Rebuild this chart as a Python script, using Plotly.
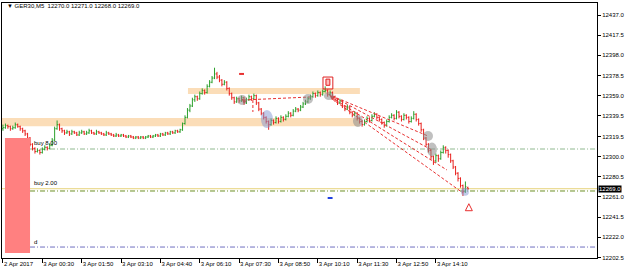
import plotly.graph_objects as go

# ---------------- data ----------------
opens = [12327,12328,12330,12329,12327,12328,12331,12329,12327,12325,12322,12318,12312,12308,12305,12306,12304,12307,12309,12308,
         12311,12316,12327,12331,12327,12325,12323,12324,12322,12324,12323,12321,12323,12324,12322,12323,12325,12323,12322,12324,
         12323,12322,12321,12323,12322,12321,12320,12321,12320,12321,12320,12319,12320,12319,12318,12319,12318,12319,12318,12319,
         12320,12319,12320,12321,12320,12322,12321,12323,12322,12324,12323,12325,12324,12326,12332,12338,12345,12349,12355,12358,
         12356,12361,12364,12362,12368,12372,12376,12380,12377,12374,12370,12372,12366,12361,12357,12353,12356,12354,12357,12352,
         12355,12358,12356,12359,12352,12346,12342,12338,12334,12331,12335,12333,12337,12334,12338,12336,12339,12342,12340,12344,
         12346,12345,12348,12351,12353,12356,12358,12361,12359,12362,12360,12363,12364,12360,12362,12358,12355,12352,12354,12349,
         12346,12348,12343,12340,12342,12337,12334,12331,12334,12337,12335,12339,12341,12338,12336,12333,12330,12334,12338,12340,
         12337,12343,12339,12336,12340,12338,12334,12337,12341,12336,12332,12326,12318,12312,12306,12300,12296,12301,12298,12304,
         12309,12306,12302,12296,12290,12284,12279,12272,12266,12270]
highs = [12331,12332,12331,12330,12330,12333,12332,12330,12328,12326,12323,12319,12313,12309,12308,12307,12309,12311,12310,12313,
         12318,12329,12335,12332,12328,12326,12326,12325,12326,12325,12324,12325,12326,12325,12325,12327,12326,12324,12326,12325,
         12324,12323,12325,12324,12323,12322,12323,12322,12322,12322,12321,12321,12321,12320,12320,12320,12320,12320,12320,12321,
         12321,12321,12322,12322,12323,12323,12324,12324,12325,12325,12326,12326,12327,12333,12340,12347,12351,12357,12360,12359,
         12363,12366,12365,12370,12374,12378,12386,12382,12379,12375,12374,12373,12367,12362,12358,12358,12357,12359,12358,12357,
         12360,12359,12361,12360,12353,12347,12343,12339,12335,12337,12336,12339,12338,12340,12339,12341,12344,12343,12346,12348,
         12347,12350,12353,12355,12358,12360,12363,12362,12364,12363,12365,12368,12365,12364,12363,12359,12356,12356,12355,12350,
         12350,12349,12344,12344,12343,12338,12335,12336,12339,12338,12341,12343,12342,12339,12337,12334,12336,12340,12342,12341,
         12345,12344,12340,12342,12341,12339,12339,12344,12342,12337,12333,12327,12319,12313,12307,12301,12303,12302,12306,12311,
         12310,12307,12303,12297,12291,12285,12280,12273,12276,12271]
lows = [12325,12327,12327,12325,12326,12327,12328,12325,12323,12320,12316,12310,12306,12303,12304,12302,12303,12306,12306,12307,
        12310,12315,12326,12325,12323,12321,12322,12320,12321,12322,12320,12320,12322,12321,12321,12322,12322,12321,12321,12322,
        12321,12320,12320,12321,12320,12319,12319,12319,12319,12319,12318,12318,12318,12317,12317,12317,12317,12317,12317,12318,
        12318,12318,12319,12319,12319,12320,12320,12321,12321,12322,12322,12323,12323,12325,12331,12337,12343,12348,12353,12354,
        12355,12360,12360,12361,12367,12371,12375,12375,12372,12368,12369,12364,12359,12355,12351,12352,12352,12353,12350,12351,
        12354,12354,12355,12350,12344,12340,12336,12332,12326,12330,12331,12332,12332,12333,12334,12335,12338,12338,12339,12343,
        12343,12344,12347,12350,12352,12355,12357,12357,12358,12358,12359,12362,12358,12359,12356,12353,12350,12351,12347,12344,
        12345,12341,12338,12339,12335,12332,12329,12330,12333,12333,12334,12338,12336,12334,12331,12328,12329,12333,12337,12335,
        12336,12337,12334,12335,12336,12332,12333,12336,12334,12330,12324,12316,12310,12304,12297,12292,12294,12295,12297,12303,
        12303,12299,12294,12288,12282,12276,12270,12262,12265,12268]
closes = [12328,12330,12329,12327,12328,12331,12329,12327,12325,12322,12318,12312,12308,12305,12306,12304,12307,12309,12308,12311,
          12316,12327,12331,12327,12325,12323,12324,12322,12324,12323,12321,12323,12324,12322,12323,12325,12323,12322,12324,12323,
          12322,12321,12323,12322,12321,12320,12321,12320,12321,12320,12319,12320,12319,12318,12319,12318,12319,12318,12319,12320,
          12319,12320,12321,12320,12322,12321,12323,12322,12324,12323,12325,12324,12326,12332,12338,12345,12349,12355,12358,12356,
          12361,12364,12362,12368,12372,12376,12380,12377,12374,12370,12372,12366,12361,12357,12353,12356,12354,12357,12352,12355,
          12358,12356,12359,12352,12346,12342,12338,12334,12331,12335,12333,12337,12334,12338,12336,12339,12342,12340,12344,12346,
          12345,12348,12351,12353,12356,12358,12361,12359,12362,12360,12363,12364,12360,12362,12358,12355,12352,12354,12349,12346,
          12348,12343,12340,12342,12337,12334,12331,12334,12337,12335,12339,12341,12338,12336,12333,12330,12334,12338,12340,12337,
          12343,12339,12336,12340,12338,12334,12337,12341,12336,12332,12326,12318,12312,12306,12300,12296,12301,12298,12304,12309,
          12306,12302,12296,12290,12284,12279,12272,12266,12271,12269]
bar_index = list(range(len(closes)))

time_ticks = [0, 16, 32, 48, 64, 80, 96, 112, 128, 144, 160, 176]
time_labels = ["2 Apr 2017", "3 Apr 00:30", "3 Apr 01:50", "3 Apr 03:10", "3 Apr 04:40", "3 Apr 06:10",
               "3 Apr 07:30", "3 Apr 08:50", "3 Apr 10:10", "3 Apr 11:30", "3 Apr 12:50", "3 Apr 14:10"]
price_ticks = [12437.0, 12417.5, 12398.0, 12378.5, 12359.0, 12339.5, 12319.5, 12300.0,
               12280.5, 12261.0, 12241.5, 12222.0, 12202.5]
price_labels = ["%.1f" % v for v in price_ticks]

upper_zone = (12360.5, 12366.3)
lower_zone = (12329.5, 12337.3)
tp_level = 12307.4
entry_level = 12266.8
bid_level = 12269.0
sl_level = 12212.6
header = "\u25BC GER30,M5  12270.0 12271.0 12268.0 12269.0"

FONT = "Liberation Sans"

fig = go.Figure()
fig.add_trace(go.Ohlc(
    x=bar_index, open=opens, high=highs, low=lows, close=closes,
    increasing=dict(line=dict(color="#2ca02c", width=1)),
    decreasing=dict(line=dict(color="#e8211e", width=1)),
    tickwidth=0.4, hoverinfo="skip", showlegend=False))

shapes = []
# zones
shapes.append(dict(type="rect", xref="x", yref="y", x0=75.2, x1=145.1, y0=upper_zone[0], y1=upper_zone[1],
                   fillcolor="#fbddb8", line=dict(width=0), layer="below"))
shapes.append(dict(type="rect", xref="x", yref="y", x0=-0.4, x1=145.1, y0=lower_zone[0], y1=lower_zone[1],
                   fillcolor="#fbddb8", line=dict(width=0), layer="below"))
# horizontal level lines
dd = "5px,2px,1px,2px"
shapes.append(dict(type="line", xref="x", yref="y", x0=-0.4, x1=241.5, y0=bid_level, y1=bid_level,
                   line=dict(color="#e6d27a", width=1), layer="below"))
shapes.append(dict(type="line", xref="x", yref="y", x0=11, x1=241.5, y0=tp_level, y1=tp_level,
                   line=dict(color="#8fb88f", width=1, dash=dd), layer="below"))
shapes.append(dict(type="line", xref="x", yref="y", x0=11, x1=241.5, y0=entry_level, y1=entry_level,
                   line=dict(color="#6b8e23", width=1, dash=dd), layer="below"))
shapes.append(dict(type="line", xref="x", yref="y", x0=11, x1=241.5, y0=sl_level, y1=sl_level,
                   line=dict(color="#6f6fc0", width=1, dash=dd), layer="below"))
# red dashed trend lines
rd = dict(color="#e83030", width=1, dash="3px,2px")
for (xa, ya, xb, yb) in [(97.6, 12354.8, 124.8, 12357.7),
                         (101.6, 12354.8, 101.6, 12343.2),
                         (133.7, 12358.7, 172.8, 12320.0),
                         (133.7, 12358.7, 174.4, 12306.4),
                         (133.7, 12357.0, 180.5, 12287.1),
                         (133.7, 12356.0, 187.0, 12264.9)]:
    shapes.append(dict(type="line", xref="x", yref="y", x0=xa, x1=xb, y0=ya, y1=yb, line=rd, layer="above"))
# red block
shapes.append(dict(type="rect", xref="x", yref="y", x0=0.8, x1=11.0, y0=12206.8, y1=12318.0,
                   fillcolor="#ff8080", line=dict(width=0), layer="above"))
# translucent circles
for (cx, cy, rx, ry, col) in [(97.2, 12354.8, 5, 5, "rgba(140,140,140,0.55)"),
                              (107.3, 12336.4, 6, 9, "rgba(130,150,210,0.5)"),
                              (124.0, 12355.8, 5, 5, "rgba(140,140,140,0.55)"),
                              (132.5, 12358.7, 5, 4, "rgba(140,140,140,0.55)"),
                              (144.3, 12334.4, 5, 6, "rgba(140,140,140,0.55)"),
                              (172.8, 12320.0, 5, 5, "rgba(140,140,140,0.55)"),
                              (174.4, 12307.0, 5, 7, "rgba(140,140,140,0.55)"),
                              (187.8, 12266.0, 4, 4, "rgba(130,150,210,0.5)")]:
    shapes.append(dict(type="circle", xref="x", yref="y", xsizemode="pixel", ysizemode="pixel",
                       xanchor=cx, yanchor=cy, x0=-rx, x1=rx, y0=-ry, y1=ry,
                       fillcolor=col, line=dict(width=0), layer="above"))
# small icons
shapes.append(dict(type="line", xref="x", yref="y", x0=96.0, x1=98.0, y0=12380.0, y1=12380.0,
                   line=dict(color="#e83030", width=2)))
shapes.append(dict(type="line", xref="x", yref="y", x0=132.0, x1=134.0, y0=12260.0, y1=12260.0,
                   line=dict(color="#2040e0", width=2)))
shapes.append(dict(type="rect", xref="x", yref="y", x0=130.1, x1=134.1, y0=12365.4, y1=12377.0,
                   fillcolor="rgba(255,255,255,0)", line=dict(color="#e02020", width=1)))
shapes.append(dict(type="rect", xref="x", yref="y", x0=131.3, x1=132.9, y0=12369.0, y1=12375.0,
                   fillcolor="rgba(255,140,140,0.6)", line=dict(color="#e02020", width=1)))

fig.add_trace(go.Scatter(x=[189.4], y=[12254.5], mode="markers", hoverinfo="skip", showlegend=False,
                         marker=dict(symbol="arrow-up-open", size=7, color="#e83030", line=dict(width=1, color="#e83030"))))
fig.add_trace(go.Scatter(x=[96.8, 132.6], y=[12356.5, 12360.0], mode="markers", hoverinfo="skip", showlegend=False,
                         marker=dict(symbol="arrow", angle=-45, size=6, color="#e02020")))

annotations = [
    dict(xref="paper", yref="paper", x=0, y=0.988, xanchor="left", yanchor="middle", xshift=3,
         text=header, showarrow=False, font=dict(family=FONT, size=6, color="#000000")),
    dict(xref="x", yref="y", x=11.6, y=tp_level, xanchor="left", yanchor="bottom", yshift=1,
         text="buy 8.00", showarrow=False, font=dict(family=FONT, size=6, color="#000000")),
    dict(xref="x", yref="y", x=11.6, y=bid_level, xanchor="left", yanchor="bottom", yshift=1,
         text="buy 2.00", showarrow=False, font=dict(family=FONT, size=6, color="#000000")),
    dict(xref="x", yref="y", x=11.6, y=sl_level, xanchor="left", yanchor="bottom", yshift=0,
         text="d", showarrow=False, font=dict(family=FONT, size=6, color="#000000")),
    dict(xref="paper", yref="y", x=1, y=bid_level, xanchor="left", yanchor="middle", xshift=1,
         text="12269.0", showarrow=False, bgcolor="#000000", borderpad=0,
         font=dict(family=FONT, size=6, color="#ffffff")),
]

fig.update_layout(
    width=625, height=274,
    margin=dict(l=2, r=28, t=3, b=16, autoexpand=False),
    paper_bgcolor="#ffffff", plot_bgcolor="#ffffff",
    shapes=shapes, annotations=annotations,
    showlegend=False,
    xaxis=dict(range=[-0.4, 241.5], rangeslider=dict(visible=False), showgrid=False, zeroline=False,
               tickmode="array", tickvals=time_ticks, ticktext=time_labels, tickangle=0, automargin=False,
               ticks="outside", ticklen=4, tickcolor="#000000", ticklabelposition="outside right",
               tickfont=dict(family=FONT, size=6, color="#000000"),
               showline=True, linecolor="#000000", linewidth=1, mirror=True),
    yaxis=dict(range=[12202.0, 12448.6], side="right", showgrid=False, zeroline=False, automargin=False,
               tickmode="array", tickvals=price_ticks, ticktext=price_labels,
               ticks="outside", ticklen=3, tickcolor="#000000",
               tickfont=dict(family=FONT, size=6, color="#000000"),
               showline=True, linecolor="#000000", linewidth=1, mirror=True),
)

fig.write_html("out.html")
